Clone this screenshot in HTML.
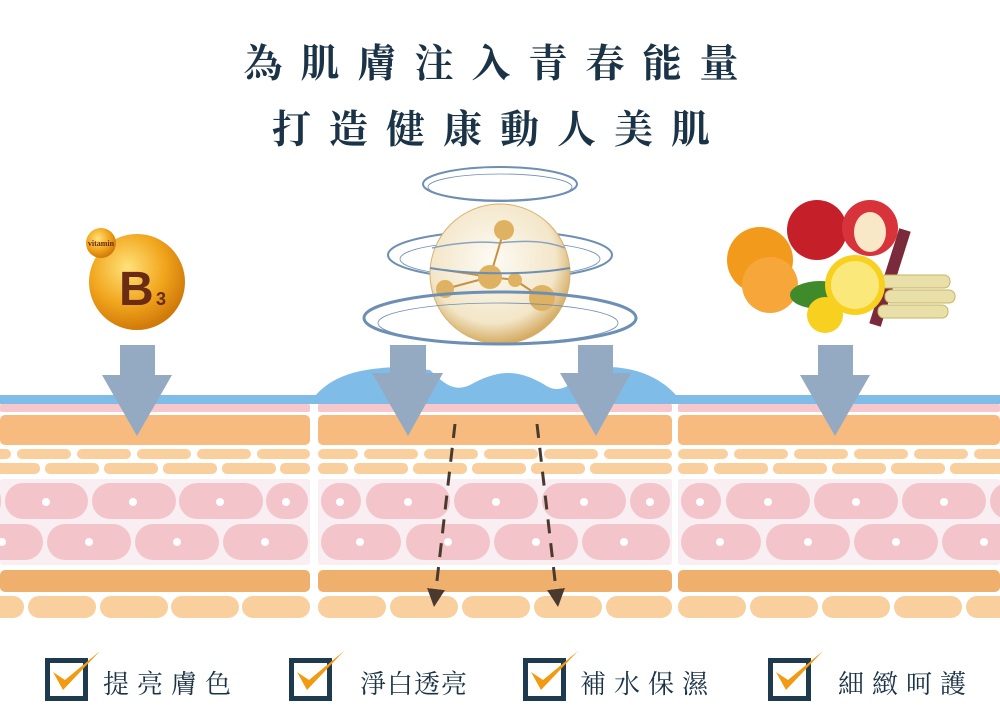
<!DOCTYPE html>
<html><head><meta charset="utf-8"><style>
body{margin:0;width:1000px;height:725px;background:#fff;overflow:hidden;font-family:"Liberation Serif","Noto Serif CJK SC",serif}
.t{position:absolute;left:0;width:1000px;text-align:center;color:#1b3347;font-weight:bold;font-size:39px;letter-spacing:18px;font-family:"Liberation Serif","Noto Serif CJK SC",serif}
.lb{position:absolute;top:664px;font-size:26px;color:#1b3347;font-family:"Liberation Serif","Noto Serif CJK SC",serif;letter-spacing:8px}
</style></head><body>
<div class="t" style="top:33px">為肌膚注入青春能量</div>
<div class="t" style="top:99px">打造健康動人美肌</div>
<svg width="1000" height="725" style="position:absolute;left:0;top:0">
<defs>
<radialGradient id="gold" cx="40%" cy="35%" r="65%"><stop offset="0" stop-color="#ffe27a"/><stop offset="0.6" stop-color="#f1a51c"/><stop offset="1" stop-color="#d07a0a"/></radialGradient>
<radialGradient id="sph" cx="45%" cy="40%" r="60%"><stop offset="0" stop-color="#fdfbf5"/><stop offset="0.75" stop-color="#f3e6c8"/><stop offset="1" stop-color="#d4ab62"/></radialGradient>
<marker id="ah" markerWidth="6" markerHeight="6" refX="3" refY="3" orient="auto"><path d="M0,0L6,3L0,6Z" fill="#4a3a2e"/></marker>
</defs>
<rect x="0" y="395" width="1000" height="9" fill="#7fbde8"/>
<path d="M312,400 C330,375 360,368 400,367 L430,370 C445,385 455,392 470,385 C500,368 520,370 545,385 C560,395 570,385 590,370 L610,367 C640,368 665,380 680,400 Z" fill="#7fbde8"/>
<g fill="#f6c7cc"><rect x="0" y="404" width="310" height="8" rx="2"/><rect x="318" y="404" width="354" height="8" rx="2"/><rect x="678" y="404" width="322" height="8" rx="2"/></g>
<g fill="#f7bb7f"><rect x="0" y="415" width="310" height="30" rx="5"/><rect x="318" y="415" width="354" height="30" rx="5"/><rect x="678" y="415" width="322" height="30" rx="5"/></g>
<g fill="#f9cf9d">
<rect x="-10" y="449" width="21" height="10" rx="5"/><rect x="17" y="449" width="54" height="10" rx="5"/><rect x="77" y="449" width="54" height="10" rx="5"/><rect x="137" y="449" width="54" height="10" rx="5"/><rect x="197" y="449" width="54" height="10" rx="5"/><rect x="257" y="449" width="53" height="10" rx="5"/>
<rect x="-10" y="463" width="50" height="11" rx="5"/><rect x="45" y="463" width="54" height="11" rx="5"/><rect x="104" y="463" width="54" height="11" rx="5"/><rect x="163" y="463" width="54" height="11" rx="5"/><rect x="222" y="463" width="54" height="11" rx="5"/><rect x="280" y="463" width="30" height="11" rx="5"/>
<rect x="318" y="449" width="40" height="10" rx="5"/><rect x="364" y="449" width="54" height="10" rx="5"/><rect x="424" y="449" width="54" height="10" rx="5"/><rect x="484" y="449" width="54" height="10" rx="5"/><rect x="544" y="449" width="54" height="10" rx="5"/><rect x="604" y="449" width="68" height="10" rx="5"/>
<rect x="318" y="463" width="30" height="11" rx="5"/><rect x="354" y="463" width="54" height="11" rx="5"/><rect x="413" y="463" width="54" height="11" rx="5"/><rect x="472" y="463" width="54" height="11" rx="5"/><rect x="531" y="463" width="54" height="11" rx="5"/><rect x="590" y="463" width="82" height="11" rx="5"/>
<rect x="678" y="449" width="50" height="10" rx="5"/><rect x="734" y="449" width="54" height="10" rx="5"/><rect x="794" y="449" width="54" height="10" rx="5"/><rect x="854" y="449" width="54" height="10" rx="5"/><rect x="914" y="449" width="54" height="10" rx="5"/><rect x="974" y="449" width="40" height="10" rx="5"/>
<rect x="678" y="463" width="30" height="11" rx="5"/><rect x="714" y="463" width="54" height="11" rx="5"/><rect x="773" y="463" width="54" height="11" rx="5"/><rect x="832" y="463" width="54" height="11" rx="5"/><rect x="891" y="463" width="54" height="11" rx="5"/><rect x="950" y="463" width="60" height="11" rx="5"/>
</g>
<g fill="#f9eef2"><rect x="0" y="479" width="310" height="86" rx="3"/><rect x="318" y="479" width="354" height="86" rx="3"/><rect x="678" y="479" width="322" height="86" rx="3"/></g>
<g fill="#f3c5cb">
<rect x="-20" y="483" width="21" height="36" rx="18"/><rect x="5" y="483" width="83" height="36" rx="18"/><rect x="92" y="483" width="84" height="36" rx="18"/><rect x="179" y="483" width="84" height="36" rx="18"/><rect x="266" y="483" width="42" height="36" rx="18"/>
<rect x="-40" y="524" width="83" height="36" rx="18"/><rect x="47" y="524" width="84" height="36" rx="18"/><rect x="135" y="524" width="84" height="36" rx="18"/><rect x="223" y="524" width="85" height="36" rx="18"/>
<rect x="321" y="483" width="40" height="36" rx="18"/><rect x="366" y="483" width="84" height="36" rx="18"/><rect x="454" y="483" width="84" height="36" rx="18"/><rect x="542" y="483" width="84" height="36" rx="18"/><rect x="630" y="483" width="40" height="36" rx="18"/>
<rect x="321" y="524" width="80" height="36" rx="18"/><rect x="406" y="524" width="84" height="36" rx="18"/><rect x="494" y="524" width="84" height="36" rx="18"/><rect x="582" y="524" width="88" height="36" rx="18"/>
<rect x="681" y="483" width="40" height="36" rx="18"/><rect x="726" y="483" width="84" height="36" rx="18"/><rect x="814" y="483" width="84" height="36" rx="18"/><rect x="902" y="483" width="84" height="36" rx="18"/><rect x="990" y="483" width="40" height="36" rx="18"/>
<rect x="681" y="524" width="80" height="36" rx="18"/><rect x="766" y="524" width="84" height="36" rx="18"/><rect x="854" y="524" width="84" height="36" rx="18"/><rect x="942" y="524" width="84" height="36" rx="18"/>
</g>
<g fill="#fff">
<circle cx="46" cy="502" r="4"/><circle cx="133" cy="502" r="4"/><circle cx="220" cy="502" r="4"/><circle cx="286" cy="502" r="4"/>
<circle cx="2" cy="542" r="4"/><circle cx="89" cy="542" r="4"/><circle cx="177" cy="542" r="4"/><circle cx="265" cy="542" r="4"/>
<circle cx="340" cy="502" r="4"/><circle cx="408" cy="502" r="4"/><circle cx="496" cy="502" r="4"/><circle cx="584" cy="502" r="4"/><circle cx="650" cy="502" r="4"/>
<circle cx="360" cy="542" r="4"/><circle cx="448" cy="542" r="4"/><circle cx="536" cy="542" r="4"/><circle cx="624" cy="542" r="4"/>
<circle cx="700" cy="502" r="4"/><circle cx="768" cy="502" r="4"/><circle cx="856" cy="502" r="4"/><circle cx="944" cy="502" r="4"/>
<circle cx="720" cy="542" r="4"/><circle cx="808" cy="542" r="4"/><circle cx="896" cy="542" r="4"/><circle cx="984" cy="542" r="4"/>
</g>
<g fill="#efb06e"><rect x="0" y="570" width="310" height="22" rx="5"/><rect x="318" y="570" width="354" height="22" rx="5"/><rect x="678" y="570" width="322" height="22" rx="5"/></g>
<g fill="#f9cf9d">
<rect x="-40" y="596" width="64" height="22" rx="11"/><rect x="28" y="596" width="68" height="22" rx="11"/><rect x="100" y="596" width="68" height="22" rx="11"/><rect x="171" y="596" width="68" height="22" rx="11"/><rect x="242" y="596" width="68" height="22" rx="11"/>
<rect x="318" y="596" width="68" height="22" rx="11"/><rect x="390" y="596" width="68" height="22" rx="11"/><rect x="462" y="596" width="68" height="22" rx="11"/><rect x="534" y="596" width="68" height="22" rx="11"/><rect x="606" y="596" width="66" height="22" rx="11"/>
<rect x="678" y="596" width="68" height="22" rx="11"/><rect x="750" y="596" width="68" height="22" rx="11"/><rect x="822" y="596" width="68" height="22" rx="11"/><rect x="894" y="596" width="68" height="22" rx="11"/><rect x="966" y="596" width="68" height="22" rx="11"/>
</g>
<path d="M455,424 L435,598" stroke="#4a3a2e" stroke-width="3" stroke-dasharray="14,10" fill="none" marker-end="url(#ah)"/>
<path d="M537,424 L557,598" stroke="#4a3a2e" stroke-width="3" stroke-dasharray="14,10" fill="none" marker-end="url(#ah)"/>
<g fill="#93aac2">
<path d="M120,345H155V375H172L137,436L102,375H120Z"/>
<path d="M390,345H426V373H443L408,436L372,373H390Z"/>
<path d="M578,345H613V373H631L596,436L560,373H578Z"/>
<path d="M818,345H853V375H870L835,436L800,375H818Z"/>
</g>
<g fill="none" stroke="#6d8fb4">
<ellipse cx="500" cy="184" rx="77" ry="17" stroke-width="2"/>
<ellipse cx="500" cy="187" rx="72" ry="13" stroke-width="0.8"/>
<ellipse cx="500" cy="255" rx="112" ry="24" stroke-width="2"/>
<ellipse cx="500" cy="259" rx="100" ry="18" stroke-width="0.8"/>
</g>
<circle cx="500" cy="274" r="70" fill="url(#sph)" stroke="#d8b070"/>
<path d="M432,248 Q470,240 500,243 Q540,238 565,248" fill="none" stroke="#8aa3c0" stroke-width="1.5"/>
<path d="M445,270 L490,277 L515,280 L542,298 M490,277 L504,230 M490,277 L445,289" stroke="#c99040" stroke-width="2" fill="none"/>
<g fill="#deb260"><circle cx="504" cy="230" r="10"/><circle cx="490" cy="277" r="12"/><circle cx="515" cy="280" r="7"/><circle cx="445" cy="289" r="9"/><circle cx="542" cy="298" r="13"/></g>
<g fill="none" stroke="#6d8fb4">
<path d="M430,268 A112,24 0 0 0 570,268" stroke-width="2"/>
<ellipse cx="500" cy="318" rx="136" ry="26" stroke-width="3"/>
<ellipse cx="498" cy="323" rx="120" ry="20" stroke-width="0.8"/>
</g>
<circle cx="137" cy="282" r="48" fill="url(#gold)"/>
<circle cx="101" cy="243" r="15" fill="url(#gold)"/>
<text x="101" y="246" font-size="8" fill="#6a2a14" text-anchor="middle" font-family="Liberation Serif,serif" font-weight="bold">vitamin</text>
<text x="119" y="305" font-size="48" fill="#6a2a14" font-family="Liberation Sans,sans-serif" font-weight="bold">B</text>
<text x="156" y="305" font-size="18" fill="#6a2a14" font-family="Liberation Sans,sans-serif" font-weight="bold">3</text>
<path d="M905,230 L875,325" stroke="#7a2a3a" stroke-width="12"/>
<circle cx="760" cy="260" r="33" fill="#f29a1c"/>
<circle cx="817" cy="230" r="30" fill="#c5202a"/>
<circle cx="870" cy="228" r="28" fill="#d8323a"/>
<ellipse cx="870" cy="232" rx="16" ry="20" fill="#f8e8c8"/>
<circle cx="770" cy="285" r="28" fill="#f7a63a"/>
<g fill="#e8e0a8" stroke="#c9b560"><rect x="880" y="275" width="70" height="13" rx="6"/><rect x="885" y="290" width="70" height="13" rx="6"/><rect x="878" y="305" width="70" height="13" rx="6"/></g>
<ellipse cx="820" cy="295" rx="30" ry="14" fill="#3f8a2a"/>
<circle cx="855" cy="285" r="30" fill="#f7d020"/>
<circle cx="855" cy="285" r="24" fill="#fbe87a"/>
<circle cx="825" cy="315" r="18" fill="#f7d020"/>
<g>
<g transform="translate(45,658)"><rect x="2.5" y="2.5" width="38" height="38" fill="none" stroke="#1d3a4f" stroke-width="5"/><path d="M8,14 L18,32 L55,-7 L20,22 Z" fill="#f19a12"/></g>
<g transform="translate(289,658)"><rect x="2.5" y="2.5" width="38" height="38" fill="none" stroke="#1d3a4f" stroke-width="5"/><path d="M8,14 L18,32 L55,-7 L20,22 Z" fill="#f19a12"/></g>
<g transform="translate(523,658)"><rect x="2.5" y="2.5" width="38" height="38" fill="none" stroke="#1d3a4f" stroke-width="5"/><path d="M8,14 L18,32 L55,-7 L20,22 Z" fill="#f19a12"/></g>
<g transform="translate(768,658)"><rect x="2.5" y="2.5" width="38" height="38" fill="none" stroke="#1d3a4f" stroke-width="5"/><path d="M8,14 L18,32 L55,-7 L20,22 Z" fill="#f19a12"/></g>
</g>
</svg>
<div class="lb" style="left:103px">提亮膚色</div>
<div class="lb" style="left:360px;letter-spacing:1px">淨白透亮</div>
<div class="lb" style="left:580px">補水保濕</div>
<div class="lb" style="left:838px">細緻呵護</div>
</body></html>
